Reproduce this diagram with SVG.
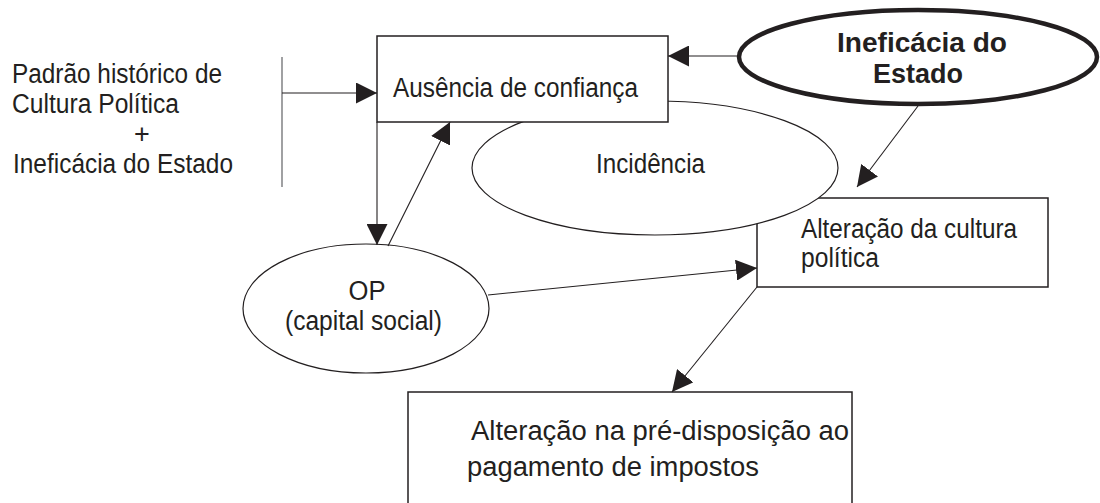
<svg xmlns="http://www.w3.org/2000/svg" width="1100" height="503" viewBox="0 0 1100 503">
<style>
  .t { font-family: "Liberation Sans", Arial, sans-serif; font-size: 27px; fill: #231f20; }
  .b { font-family: "Liberation Sans", Arial, sans-serif; font-size: 27.5px; font-weight: bold; fill: #231f20; }
  .box { fill: #ffffff; stroke: #231f20; stroke-width: 1.5; }
  .ell { fill: #ffffff; stroke: #231f20; stroke-width: 1.2; }
  .thick { fill: #ffffff; stroke: #231f20; stroke-width: 4.5; }
  .c { fill: none; stroke: #231f20; stroke-width: 1.1; marker-end: url(#ah); }
</style>
<defs>
  <marker id="ah" markerUnits="userSpaceOnUse" markerWidth="21" markerHeight="21" viewBox="0 0 21 21" refX="21" refY="10.5" orient="auto">
    <path d="M0,0 L21,10.5 L0,21 Z" fill="#231f20"/>
  </marker>
</defs>
<rect width="1100" height="503" fill="#ffffff"/>

<g id="left-label">
  <text class="t" x="12" y="83" textLength="210" lengthAdjust="spacingAndGlyphs">Padrão histórico de</text>
  <text class="t" x="12" y="113" textLength="167" lengthAdjust="spacingAndGlyphs">Cultura Política</text>
  <text class="t" x="142" y="143" text-anchor="middle">+</text>
  <text class="t" x="13" y="173" textLength="220" lengthAdjust="spacingAndGlyphs">Ineficácia do Estado</text>
</g>

<g id="alteracao-cultura">
  <rect class="box" x="757" y="198" width="291" height="89"/>
  <text class="t" x="801" y="238" textLength="216" lengthAdjust="spacingAndGlyphs">Alteração da cultura</text>
  <text class="t" x="801" y="267" textLength="78" lengthAdjust="spacingAndGlyphs">política</text>
</g>

<g id="incidencia">
  <ellipse class="ell" cx="655" cy="168" rx="183" ry="67"/>
  <text class="t" x="596" y="173" textLength="109" lengthAdjust="spacingAndGlyphs">Incidência</text>
</g>

<g id="ausencia">
  <rect class="box" x="377" y="36" width="291" height="86"/>
  <text class="t" x="393" y="97" textLength="245" lengthAdjust="spacingAndGlyphs">Ausência de confiança</text>
</g>

<g id="ineficacia">
  <ellipse class="thick" cx="918" cy="57" rx="179" ry="47"/>
  <text class="b" x="837" y="52" textLength="170" lengthAdjust="spacingAndGlyphs">Ineficácia do</text>
  <text class="b" x="873" y="83" textLength="90" lengthAdjust="spacingAndGlyphs">Estado</text>
</g>

<g id="op">
  <ellipse class="ell" cx="366" cy="308.5" rx="123" ry="64.5"/>
  <text class="t" x="367" y="300" text-anchor="middle" textLength="37" lengthAdjust="spacingAndGlyphs">OP</text>
  <text class="t" x="285" y="330" textLength="157" lengthAdjust="spacingAndGlyphs">(capital social)</text>
</g>

<g id="pre-disposicao">
  <rect class="box" x="408" y="392" width="444" height="130"/>
  <text class="t" x="471" y="440" textLength="378" lengthAdjust="spacingAndGlyphs">Alteração na pré-disposição ao</text>
  <text class="t" x="467" y="476" textLength="292" lengthAdjust="spacingAndGlyphs">pagamento de impostos</text>
</g>

<g id="connectors">
  <line x1="282" y1="57" x2="282" y2="187" stroke="#6d6e71" stroke-width="1.3"/>
  <line class="c" x1="282" y1="93" x2="377" y2="93"/>
  <line class="c" x1="737" y1="56" x2="668" y2="56"/>
  <line class="c" x1="377" y1="122" x2="377" y2="245"/>
  <line class="c" x1="388" y1="246" x2="450" y2="122"/>
  <line class="c" x1="918" y1="106" x2="857" y2="187"/>
  <line class="c" x1="488" y1="295" x2="757" y2="268"/>
  <line class="c" x1="757" y1="287" x2="672" y2="392"/>
</g>
</svg>
